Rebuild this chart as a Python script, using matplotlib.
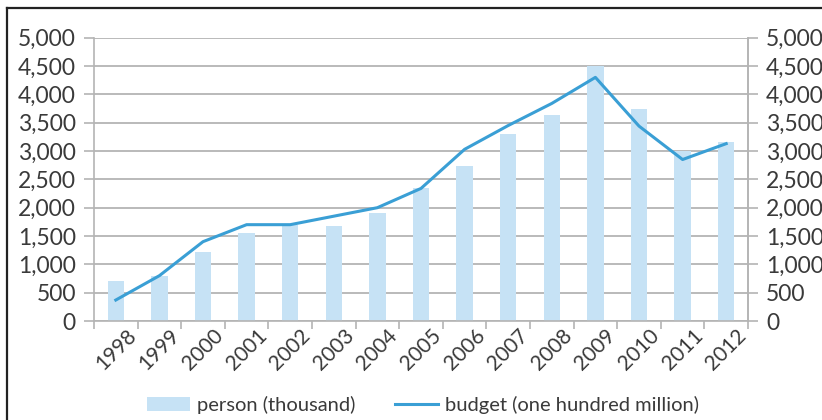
import matplotlib
matplotlib.use("Agg")
import matplotlib.pyplot as plt
import matplotlib.transforms as mtransforms
from matplotlib.lines import Line2D
from matplotlib.ticker import FuncFormatter, FixedLocator
import numpy as np

years = ["1998", "1999", "2000", "2001", "2002", "2003", "2004", "2005",
         "2006", "2007", "2008", "2009", "2010", "2011", "2012"]
person = [700, 790, 1220, 1560, 1700, 1680, 1910, 2350,
          2730, 3300, 3630, 4500, 3740, 3000, 3160]
budget = [370, 800, 1400, 1700, 1700, 1850, 2000, 2340,
          3030, 3450, 3840, 4300, 3440, 2850, 3130]
yticks = [0, 500, 1000, 1500, 2000, 2500, 3000, 3500, 4000, 4500, 5000]

plt.rcParams['font.family'] = ['Lato', 'DejaVu Sans']

W, H = 822, 420
fig = plt.figure(figsize=(W / 100, H / 100), dpi=100)
fig.patch.set_facecolor('white')
ax = fig.add_axes([94 / W, 1 - 321 / H, (748 - 94) / W, (321 - 37.7) / H])

x = np.arange(len(years))
bar_color = '#c6e2f5'
line_color = '#3a9fd5'
grid_color = '#b4b4b4'
text_color = '#3a3a3a'

bars = ax.bar(x, person, width=0.38, color=bar_color, zorder=2,
              label='person (thousand)')
line, = ax.plot(x, budget, color=line_color, lw=2.2, zorder=3,
                label='budget (one hundred million)')

ax.set_xlim(-0.5, len(years) - 0.5)
ax.set_ylim(0, 5000)
ax.set_yticks(yticks)
ax.yaxis.set_major_formatter(FuncFormatter(lambda v, p: f"{int(v):,}"))
ax.grid(axis='y', color=grid_color, lw=1.3, zorder=1)
ax.set_axisbelow(True)

# x ticks at category boundaries, labels at centres
ax.xaxis.set_major_locator(FixedLocator(np.arange(-0.5, len(years), 1.0)))
ax.xaxis.set_major_formatter(FuncFormatter(lambda v, p: ""))
ax.xaxis.set_minor_locator(FixedLocator(x))
ax.set_xticks(x, years, minor=True)
ax.tick_params(axis='x', which='minor', length=0, pad=3, labelsize=15,
               labelcolor=text_color, labelrotation=45)
ax.tick_params(axis='x', which='major', length=6, width=1.2, color=grid_color)
offset = mtransforms.ScaledTranslation(10 / 100, 0, fig.dpi_scale_trans)
for lab in ax.get_xticklabels(minor=True):
    lab.set_ha('right')
    lab.set_va('top')
    lab.set_rotation_mode('anchor')
    lab.set_transform(lab.get_transform() + offset)

ax.tick_params(axis='y', length=7, width=1.2, color=grid_color, pad=6,
               labelsize=16.5, labelcolor=text_color)

ax.spines['top'].set_visible(False)
for s in ['left', 'right', 'bottom']:
    ax.spines[s].set_color(grid_color)
    ax.spines[s].set_linewidth(1.2)

ax2 = ax.twinx()
ax2.set_ylim(0, 5000)
ax2.set_yticks(yticks)
ax2.yaxis.set_major_formatter(FuncFormatter(lambda v, p: f"{int(v):,}"))
ax2.tick_params(axis='y', length=7, width=1.2, color=grid_color, pad=6,
                labelsize=16.5, labelcolor=text_color)
for s in ['top', 'left', 'bottom']:
    ax2.spines[s].set_visible(False)
ax2.spines['right'].set_color(grid_color)
ax2.spines['right'].set_linewidth(1.2)

leg = fig.legend([bars, line], ['person (thousand)', 'budget (one hundred million)'],
                 loc='center', bbox_to_anchor=(423 / W, 1 - 405 / H),
                 ncol=2, frameon=False, fontsize=14.5, handlelength=2.1,
                 handleheight=0.65, handletextpad=0.35, columnspacing=2.0)
for t in leg.get_texts():
    t.set_color(text_color)

# outer frame
fig.add_artist(Line2D([7 / W, 1.0], [1 - 8 / H, 1 - 8 / H], color='#222222',
                      lw=1.6, transform=fig.transFigure))
fig.add_artist(Line2D([7 / W, 7 / W], [0, 1 - 8 / H], color='#222222',
                      lw=1.6, transform=fig.transFigure))

fig.savefig('out.png', dpi=100)
